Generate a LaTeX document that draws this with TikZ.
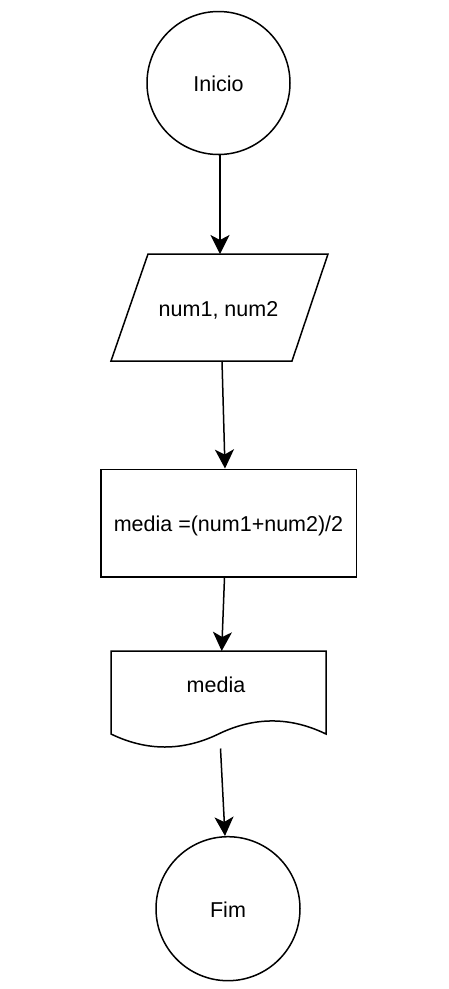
\documentclass[tikz,border=0pt]{standalone}
\usepackage{fontspec}
\setmainfont{Liberation Sans}
\usetikzlibrary{arrows.meta}
\begin{document}
\begin{tikzpicture}[x=1pt,y=-1pt,
  shp/.style={draw=black,line width=1.5pt,fill=white},
  lbl/.style={font=\fontsize{21.5}{25}\selectfont,text height=17.5pt,text depth=0pt,inner sep=0pt},
  term/.style={shp,lbl,circle,minimum size=143pt},
  arr/.style={line width=1.5pt,-{Stealth[length=19pt,width=19pt,inset=5pt]}}]
\useasboundingbox[fill=white] (0,0) rectangle (448,989);
% Inicio
\node[term] (inicio) at (218.5,83) {Inicio};
% parallelogram
\draw[shp] (148,254) -- (328,254) -- (292,361) -- (111,361) -- cycle;
\node[lbl] (par) at (218.5,307.5) {num1, num2};
\coordinate (partop) at (220,254);
\coordinate (parbot) at (222,361);
% process
\node[shp,lbl,rectangle,minimum width=255.5pt,minimum height=107.5pt] (proc) at (228.5,523) {media =(num1+num2)/2};
% document
\draw[shp] (111,651) -- (326,651) -- (326,734)
  .. controls (290.17,716.6) and (254.33,716.6) .. (218.5,734)
  .. controls (182.67,751.33) and (146.83,751.33) .. (111,734) -- cycle;
\node[lbl] (doc) at (216,683.5) {media};
\coordinate (doctop) at (221.7,651);
\coordinate (docbot) at (220.5,748.5);
% Fim
\node[term,minimum size=144pt] (fim) at (228,908.7) {Fim};
% connectors
\draw[arr] ([xshift=1.5pt]inicio.south) -- (partop);
\draw[arr] (parbot) -- ([xshift=-3.5pt]proc.north);
\draw[arr] ([xshift=-4pt]proc.south) -- (doctop);
\draw[arr] (docbot) -- ([xshift=-3pt]fim.north);
\end{tikzpicture}
\end{document}
